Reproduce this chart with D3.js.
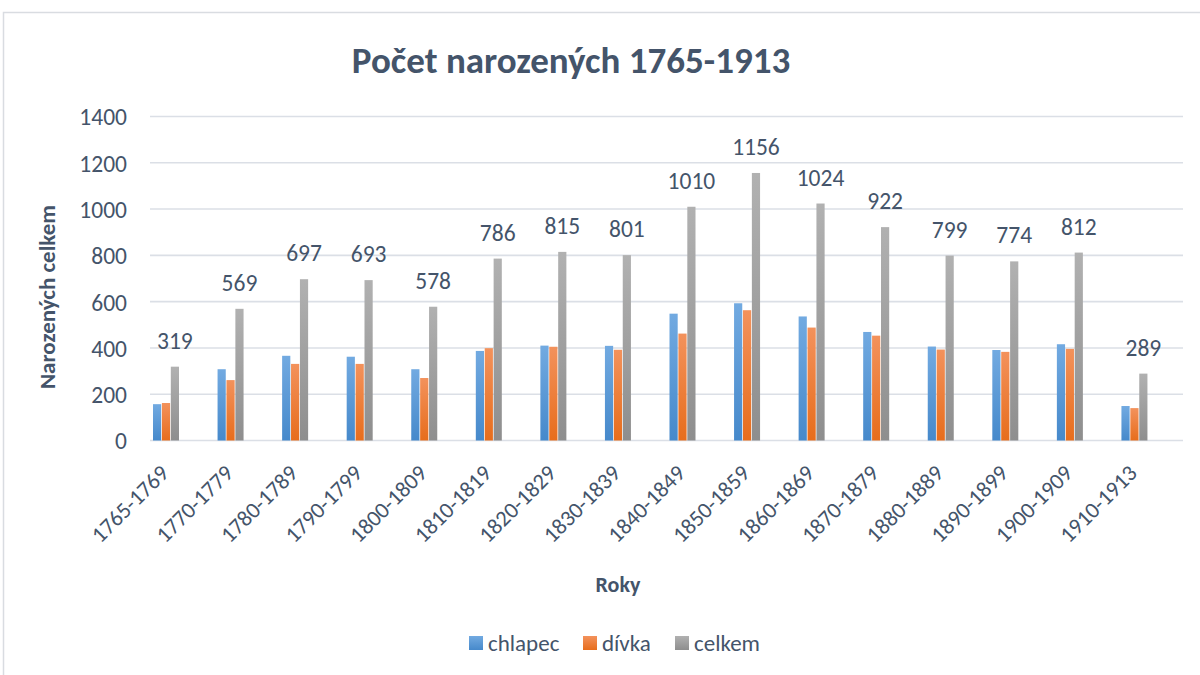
<!DOCTYPE html>
<html>
<head>
<meta charset="utf-8">
<script src="https://cdn.jsdelivr.net/npm/d3@7"></script>
<style>
  body { margin: 0; background: #fff; }
  svg text { font-family: Carlito, Calibri, Lato, sans-serif; fill: #44546a; }
</style>
</head>
<body>
<svg width="1200" height="675"></svg>
<script>
// data
var roky = ["1765-1769", "1770-1779", "1780-1789", "1790-1799", "1800-1809", "1810-1819",
            "1820-1829", "1830-1839", "1840-1849", "1850-1859", "1860-1869", "1870-1879",
            "1880-1889", "1890-1899", "1900-1909", "1910-1913"];
var chlapec = [157, 308, 366, 362, 308, 387, 410, 409, 548, 593, 536, 469, 406, 391, 416, 149];
var divka   = [162, 261, 331, 331, 270, 399, 405, 392, 462, 563, 488, 453, 393, 383, 396, 140];
var celkem  = [319, 569, 697, 693, 578, 786, 815, 801, 1010, 1156, 1024, 922, 799, 774, 812, 289];
var serie = ["chlapec", "dívka", "celkem"];
var yTicks = [0, 200, 400, 600, 800, 1000, 1200, 1400];

var svg = d3.select("svg");

var rows = roky.map(function (r, i) {
    return { rok: r, hodnoty: [chlapec[i], divka[i], celkem[i]], celkem: celkem[i] };
});

// barevne prechody sloupcu
var barvy = [["#72aae1", "#4689cb"], ["#f3925c", "#e76d1c"], ["#b1b1b1", "#8e8e8e"]];
var defs = svg.append("defs");
barvy.forEach(function (b, i) {
    var gr = defs.append("linearGradient").attr("id", "g" + i)
        .attr("x1", 0).attr("y1", 0).attr("x2", 0).attr("y2", 1);
    gr.append("stop").attr("offset", "0%").attr("stop-color", b[0]);
    gr.append("stop").attr("offset", "100%").attr("stop-color", b[1]);
});

// ramecek grafu
svg.append("rect")
    .attr("x", 3.5).attr("y", 12.5)
    .attr("width", 1210).attr("height", 680)
    .attr("fill", "none").attr("stroke", "#d9dce1").attr("stroke-width", 1.5);

var plotLeft = 150, plotRight = 1183, plotTop = 116.5, plotBottom = 440.5;

var x = d3.scaleBand().domain(roky).range([plotLeft, plotRight]);
var x1 = d3.scaleBand().domain(serie).range([3, 29]).paddingInner(0.08);
var y = d3.scaleLinear().domain([0, 1400]).range([plotBottom, plotTop]);

// mrizka
svg.append("g").selectAll("line")
    .data(yTicks)
    .enter().append("line")
    .attr("x1", plotLeft).attr("x2", plotRight)
    .attr("y1", function (d) { return y(d); })
    .attr("y2", function (d) { return y(d); })
    .attr("stroke", "#dbdfe6").attr("stroke-width", 1.6);

// osa y
var yAxis = svg.append("g")
    .attr("transform", "translate(" + (plotLeft - 23) + ",0)")
    .call(d3.axisLeft(y).tickValues(yTicks).tickFormat(d3.format("d")).tickSize(0).tickPadding(0));
yAxis.select(".domain").remove();
yAxis.selectAll("text")
    .style("font-size", "23.5px")
    .attr("dy", "0.36em")
    .attr("fill", "#44546a");

// osa x
var xAxis = svg.append("g")
    .attr("transform", "translate(0," + plotBottom + ")")
    .call(d3.axisBottom(x).tickSize(0).tickPadding(0));
xAxis.select(".domain").remove();
xAxis.selectAll(".tick")
    .attr("transform", function (d) { return "translate(" + (x(d) + 20) + ",0)"; });
xAxis.selectAll("text")
    .style("font-size", "22.5px")
    .attr("fill", "#44546a")
    .attr("text-anchor", "end")
    .attr("y", 0).attr("dy", 0)
    .attr("transform", "translate(0,34) rotate(-45)");

// sloupce
var group = svg.append("g").selectAll(".grp")
    .data(rows)
    .enter().append("g")
    .attr("class", "grp")
    .attr("transform", function (d) { return "translate(" + x(d.rok) + ",0)"; });

group.selectAll("rect")
    .data(function (d) { return d.hodnoty.map(function (v, i) { return { s: serie[i], v: v, i: i }; }); })
    .enter().append("rect")
    .attr("x", function (d) { return x1(d.s); })
    .attr("width", x1.bandwidth())
    .attr("y", function (d) { return y(d.v); })
    .attr("height", function (d) { return plotBottom - y(d.v); })
    .attr("fill", function (d) { return "url(#g" + d.i + ")"; });

// popisky celkem
group.append("text")
    .attr("x", x1("celkem") + x1.bandwidth() / 2)
    .attr("y", function (d) { return y(d.celkem) - 18; })
    .attr("text-anchor", "middle")
    .style("font-size", "23.5px")
    .text(function (d) { return d.celkem; });

// titulek
svg.append("text")
    .attr("x", 571).attr("y", 73)
    .attr("text-anchor", "middle")
    .style("font-size", "37px").style("font-weight", "bold")
    .text("Počet narozených 1765-1913");

svg.append("text")
    .attr("transform", "translate(55,297) rotate(-90)")
    .attr("text-anchor", "middle")
    .style("font-size", "23px").style("font-weight", "bold")
    .text("Narozených celkem");

svg.append("text")
    .attr("x", 618).attr("y", 592)
    .attr("text-anchor", "middle")
    .style("font-size", "22px").style("font-weight", "bold")
    .text("Roky");

// legenda
var legX = [469, 583, 675];
var leg = svg.append("g").selectAll("g")
    .data(serie)
    .enter().append("g")
    .attr("transform", function (d, i) { return "translate(" + legX[i] + ",636)"; });
leg.append("rect")
    .attr("width", 14).attr("height", 14)
    .attr("fill", function (d, i) { return "url(#g" + i + ")"; });
leg.append("text")
    .attr("x", 19).attr("y", 15)
    .style("font-size", "23px")
    .text(function (d) { return d; });
</script>
</body>
</html>
